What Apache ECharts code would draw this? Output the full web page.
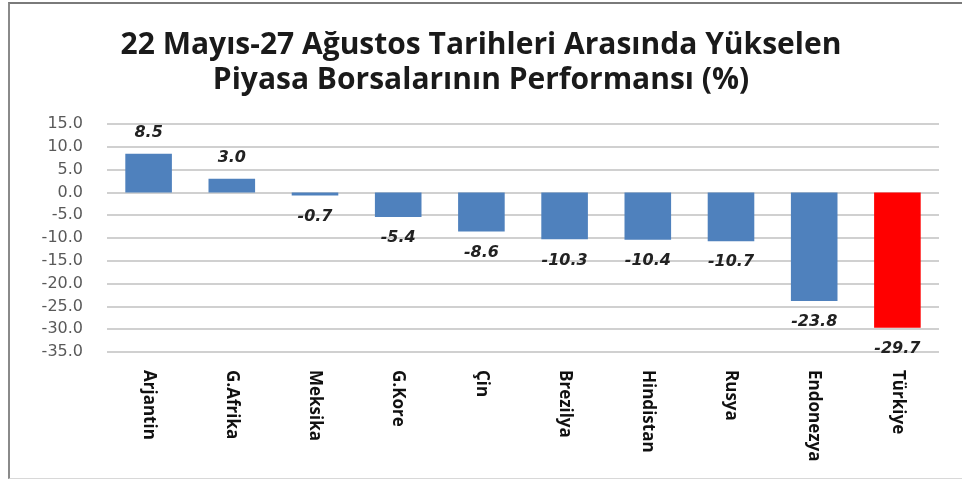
<!doctype html>
<html>
<head>
<meta charset="utf-8">
<script src="https://cdn.jsdelivr.net/npm/echarts@6/dist/echarts.min.js"></script>
<style>
  html, body { margin:0; background:#fff; }
  #frame { position:absolute; left:8px; top:2px; width:960px; height:474px; border-left:2px solid #8a8a8a; border-top:2px solid #7a7a7a; border-bottom:1px solid #d8d8d8; }
  #chart { position:absolute; left:0; top:0; width:962px; height:481px; }
</style>
</head>
<body>
<div id="frame"></div>
<div id="chart"></div>
<script>
const countries = ['Arjantin', 'G.Afrika', 'Meksika', 'G.Kore', 'Çin', 'Brezilya', 'Hindistan', 'Rusya', 'Endonezya', 'Türkiye'];
const performance = [8.5, 3.0, -0.7, -5.4, -8.6, -10.3, -10.4, -10.7, -23.8, -29.7];
const highlight = 'Türkiye';

const blue = '#4f81bd', red = '#ff0000';

echarts.init(document.getElementById('chart')).setOption({
  animation: false,
  title: {
    text: '22 Mayıs-27 Ağustos Tarihleri Arasında Yükselen\nPiyasa Borsalarının Performansı (%)',
    left: 'center', top: 23,
    textStyle: { fontFamily: 'Open Sans', fontWeight: 'bold', fontSize: 30, lineHeight: 35, color: '#1a1a1a' }
  },
  grid: { left: 107, right: 23, top: 124, bottom: 129 },
  xAxis: {
    type: 'category',
    data: countries,
    axisLine: { show: false },
    axisTick: { show: false },
    axisLabel: {
      rotate: -90, interval: 0, margin: 18,
      fontFamily: 'Open Sans', fontWeight: 'bold', fontSize: 17, color: '#111'
    }
  },
  yAxis: {
    type: 'value', min: -35, max: 15, interval: 5,
    axisLabel: {
      formatter: v => v.toFixed(1),
      fontFamily: 'DejaVu Sans', fontSize: 16, color: '#595959', margin: 24
    },
    splitLine: { lineStyle: { color: '#d0d0d0', width: 2 } }
  },
  series: [{
    type: 'bar',
    barWidth: '56%',
    data: performance.map((v, i) => ({
      value: v,
      itemStyle: { color: countries[i] === highlight ? red : blue },
      label: { position: v >= 0 ? 'top' : 'bottom' }
    })),
    label: {
      show: true, distance: 13,
      formatter: p => p.value.toFixed(1),
      fontFamily: 'DejaVu Sans', fontStyle: 'italic', fontWeight: 'bold', fontSize: 16, color: '#222'
    }
  }]
});
</script>
</body>
</html>
